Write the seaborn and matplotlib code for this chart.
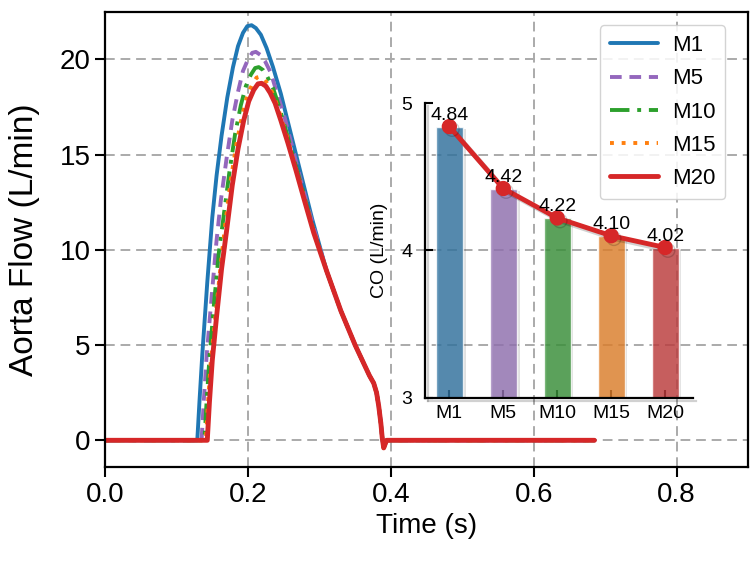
import numpy as np
import matplotlib
matplotlib.use("Agg")
import matplotlib.pyplot as plt
import matplotlib.patheffects as pe
import seaborn as sns

# Aorta flow waveforms
t_m1 = [0.0, 0.129, 0.132, 0.136, 0.143, 0.150, 0.156, 0.163, 0.171, 0.179, 0.186,
        0.193, 0.199, 0.205, 0.211, 0.218, 0.226, 0.235, 0.246, 0.258, 0.272, 0.290]
flow_m1 = [0, 0, 2.0, 4.5, 8.3, 11.7, 13.9, 16.0, 18.0, 19.6, 20.7,
           21.4, 21.75, 21.8, 21.65, 21.3, 20.6, 19.6, 18.2, 16.4, 14.3, 11.6]

t_m5 = [0.0, 0.135, 0.138, 0.142, 0.149, 0.156, 0.162, 0.170, 0.178, 0.186, 0.193,
        0.200, 0.206, 0.211, 0.217, 0.224, 0.232, 0.240, 0.251, 0.262, 0.275, 0.291]
flow_m5 = [0, 0, 2.0, 4.4, 7.5, 10.5, 12.6, 14.8, 16.8, 18.3, 19.4,
           20.0, 20.35, 20.4, 20.25, 19.9, 19.3, 18.3, 17.0, 15.4, 13.5, 11.3]

t_m10 = [0.0, 0.139, 0.142, 0.146, 0.152, 0.159, 0.166, 0.174, 0.182, 0.190, 0.197,
         0.204, 0.210, 0.215, 0.221, 0.227, 0.235, 0.243, 0.253, 0.264, 0.277, 0.291]
flow_m10 = [0, 0, 2.0, 4.3, 7.0, 9.8, 11.8, 14.1, 16.1, 17.6, 18.6,
            19.2, 19.55, 19.6, 19.45, 19.1, 18.5, 17.6, 16.3, 14.8, 13.1, 11.1]

t_m15 = [0.0, 0.141, 0.144, 0.148, 0.155, 0.162, 0.168, 0.176, 0.184, 0.192, 0.199,
         0.206, 0.212, 0.217, 0.223, 0.230, 0.237, 0.245, 0.255, 0.266, 0.278, 0.292]
flow_m15 = [0, 0, 2.0, 4.2, 6.7, 9.3, 11.3, 13.7, 15.6, 17.1, 18.1,
            18.7, 19.05, 19.1, 18.95, 18.6, 18.0, 17.1, 15.9, 14.4, 12.8, 11.0]

t_m20 = [0.0, 0.143, 0.146, 0.150, 0.156, 0.163, 0.170, 0.178, 0.186, 0.194, 0.201,
         0.208, 0.214, 0.219, 0.225, 0.231, 0.238, 0.246, 0.256, 0.267, 0.279, 0.292]
flow_m20 = [0, 0, 2.0, 4.2, 6.5, 9.0, 11.0, 13.4, 15.3, 16.8, 17.8,
            18.4, 18.72, 18.75, 18.6, 18.25, 17.7, 16.8, 15.6, 14.2, 12.6, 10.9]

# common descending part / diastole (all curves overlap here)
t_tail = [0.310, 0.320, 0.330, 0.340, 0.350, 0.360, 0.370, 0.376, 0.380,
          0.383, 0.386, 0.388, 0.390, 0.392, 0.394, 0.685]
flow_tail = [8.9, 7.85, 6.8, 5.9, 5.0, 4.2, 3.4, 3.0, 2.5,
             1.8, 0.9, 0.1, -0.4, -0.2, 0.0, 0.0]

models = ["M1", "M5", "M10", "M15", "M20"]
co = [4.84, 4.42, 4.22, 4.10, 4.02]

colors = ["#1f77b4", "#9467bd", "#2ca02c", "#ff7f0e", "#d62728"]
styles = ["-", (0, (3, 2)), (0, (5, 2, 1, 2)), (0, (1, 2)), "-"]
widths = [2.8, 2.8, 2.8, 2.8, 3.5]

sns.set_style("ticks")
plt.rcParams["font.family"] = ["Liberation Sans", "DejaVu Sans"]
plt.rcParams["text.color"] = "black"
plt.rcParams["axes.labelcolor"] = "black"
plt.rcParams["xtick.color"] = "black"
plt.rcParams["ytick.color"] = "black"

fig = plt.figure(figsize=(7.51, 5.66), dpi=100)
ax = fig.add_axes([0.140, 0.175, 0.856, 0.804])

curves = [(t_m1, flow_m1), (t_m5, flow_m5), (t_m10, flow_m10),
          (t_m15, flow_m15), (t_m20, flow_m20)]
for (t, f), name, c, ls, lw in zip(curves, models, colors, styles, widths):
    sns.lineplot(x=t + t_tail, y=f + flow_tail, ax=ax, color=c,
                 linestyle=ls, linewidth=lw, label=name, sort=False)

ax.set_xlim(0, 0.9)
ax.set_ylim(-1.4, 22.5)
ax.set_xticks([0.0, 0.2, 0.4, 0.6, 0.8])
ax.set_yticks([0, 5, 10, 15, 20])
ax.set_xlabel("Time (s)", fontsize=20)
ax.set_ylabel("Aorta Flow (L/min)", fontsize=24, labelpad=14)
ax.tick_params(labelsize=20, width=1.5, length=7)
ax.grid(True, linestyle=(0, (5, 3)), color="#aaaaaa", linewidth=1.4)
for s in ax.spines.values():
    s.set_linewidth(1.6)
    s.set_color("black")

leg = ax.legend(loc="upper right", bbox_to_anchor=(0.982, 0.995), fontsize=16,
                handlelength=2.2, handletextpad=0.6, labelspacing=0.55,
                borderpad=0.45, frameon=True, fancybox=True, framealpha=0.85,
                edgecolor="#cccccc")

# inset with cardiac output
ax_in = fig.add_axes([0.566, 0.297, 0.357, 0.521])
ax_in.patch.set_alpha(0)
sns.barplot(x=models, y=co, hue=models, palette=colors, legend=False,
            width=0.5, alpha=0.8, ax=ax_in)
shadow = [pe.SimplePatchShadow(offset=(2, -2), shadow_rgbFace="black", alpha=0.12),
          pe.Normal()]
for bar in ax_in.patches:
    bar.set_path_effects(shadow)
ax_in.plot(np.arange(len(co)), co, "-o", color="#d62728", linewidth=3.5,
           markersize=10, zorder=5,
           path_effects=[pe.SimpleLineShadow(offset=(2, -2), alpha=0.18), pe.Normal()])
for i, v in enumerate(co):
    ax_in.annotate(f"{v:.2f}", (i, v), xytext=(0, 2), textcoords="offset points",
                   ha="center", va="bottom", fontsize=14, zorder=6)
ax_in.set_xlim(-0.45, 4.52)
ax_in.set_ylim(3, 5)
ax_in.set_yticks([3, 4, 5])
ax_in.set_ylabel("CO (L/min)", fontsize=14, labelpad=10)
ax_in.set_xlabel("")
ax_in.tick_params(labelsize=14, direction="in", width=1.5, length=6)
ax_in.tick_params(axis="y", pad=9)
ax_in.tick_params(axis="x", pad=5)
sns.despine(ax=ax_in)
for s in ["left", "bottom"]:
    ax_in.spines[s].set_linewidth(1.6)
    ax_in.spines[s].set_color("black")
    ax_in.spines[s].set_path_effects(
        [pe.SimpleLineShadow(offset=(2, -2), alpha=0.18), pe.Normal()])

fig.savefig("out.png", dpi=100)
